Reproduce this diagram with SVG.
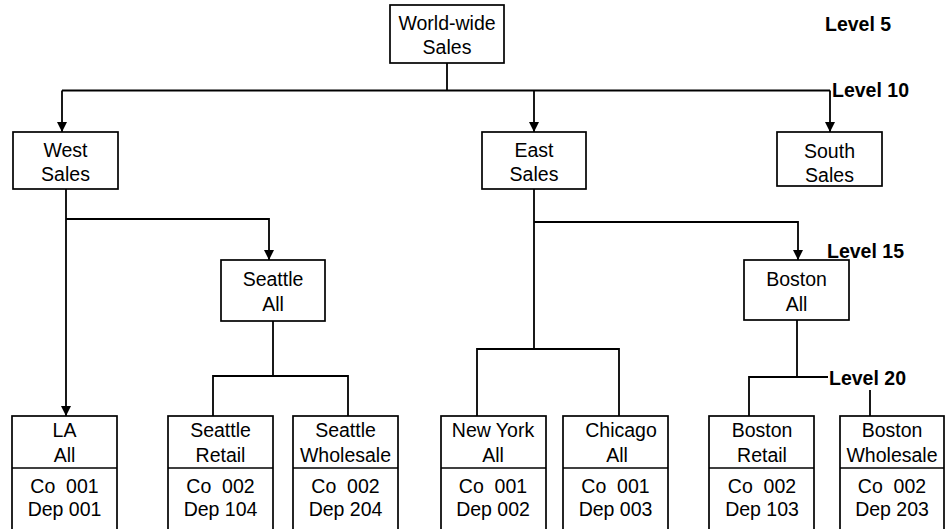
<svg xmlns="http://www.w3.org/2000/svg" width="945" height="529" viewBox="0 0 945 529">
  <defs>
    <marker id="arrow" markerUnits="userSpaceOnUse" markerWidth="10" markerHeight="10" refX="10" refY="5" orient="auto">
      <path d="M0,0 L10,5 L0,10 z" fill="#000"/>
    </marker>
    <style>
      .box { fill: #fff; stroke: #000; stroke-width: 1.7; }
      .div { stroke: #000; stroke-width: 1.7; }
      .wire { fill: none; stroke: #000; stroke-width: 1.8; }
      .arr { marker-end: url(#arrow); }
      .t { font-family: "Liberation Sans", Arial, sans-serif; font-size: 19.5px; fill: #000; text-anchor: middle; white-space: pre; }
      .lvl { font-family: "Liberation Sans", Arial, sans-serif; font-size: 19.5px; font-weight: bold; fill: #000; }
    </style>
  </defs>

  <rect width="945" height="529" fill="#fff"/>

  <!-- connectors -->
  <g id="connectors">
    <path class="wire" d="M447,63 V90.5"/>
    <path class="wire" d="M62,90.5 H830"/>
    <path class="wire arr" d="M62,90.5 V132"/>
    <path class="wire arr" d="M534,90.5 V132"/>
    <path class="wire arr" d="M830,90.5 V132"/>

    <path class="wire arr" d="M66,189 V416"/>
    <path class="wire arr" d="M66,219 H269 V260"/>
    <path class="wire" d="M273,321 V376"/>
    <path class="wire" d="M213,416 V376 H348 V416"/>

    <path class="wire" d="M534,189 V349"/>
    <path class="wire" d="M477,416 V349 H619 V416"/>
    <path class="wire arr" d="M534,222 H798 V260"/>
    <path class="wire" d="M797,320 V377"/>
    <path class="wire" d="M749,416 V377 H870 V416"/>
  </g>

  <!-- level labels -->
  <g id="levels">
    <text class="lvl" x="825" y="31">Level 5</text>
    <text class="lvl" x="832" y="96.5">Level 10</text>
    <text class="lvl" x="827" y="258">Level 15</text>
    <rect x="828" y="365" width="84" height="25" fill="#fff"/>
    <text class="lvl" x="829" y="385">Level 20</text>
  </g>

  <!-- level 5 -->
  <g id="worldwide">
    <rect class="box" x="390" y="5" width="114" height="58"/>
    <text class="t" x="447" y="29.5">World-wide</text>
    <text class="t" x="447" y="53.5">Sales</text>
  </g>

  <!-- level 10 -->
  <g id="west">
    <rect class="box" x="13" y="132" width="105" height="57"/>
    <text class="t" x="65.5" y="156.5">West</text>
    <text class="t" x="65.5" y="180.5">Sales</text>
  </g>
  <g id="east">
    <rect class="box" x="482" y="132" width="104" height="57"/>
    <text class="t" x="534" y="156.5">East</text>
    <text class="t" x="534" y="180.5">Sales</text>
  </g>
  <g id="south">
    <rect class="box" x="777" y="132" width="105" height="54"/>
    <text class="t" x="829.5" y="157.5">South</text>
    <text class="t" x="829.5" y="181.5">Sales</text>
  </g>

  <!-- level 15 -->
  <g id="seattle-all">
    <rect class="box" x="221" y="260" width="104" height="61"/>
    <text class="t" x="273" y="285.5">Seattle</text>
    <text class="t" x="273" y="310.5">All</text>
  </g>
  <g id="boston-all">
    <rect class="box" x="744" y="260" width="105" height="60"/>
    <text class="t" x="796.5" y="285.5">Boston</text>
    <text class="t" x="796.5" y="310.5">All</text>
  </g>

  <!-- level 20 -->
  <g id="la-all">
    <rect class="box" x="12" y="416" width="105" height="125"/>
    <line class="div" x1="12" y1="468" x2="117" y2="468"/>
    <text class="t" x="64.5" y="436.5">LA</text>
    <text class="t" x="64.5" y="461.5">All</text>
    <text class="t" x="64.5" y="492.5">Co  001</text>
    <text class="t" x="64.5" y="516">Dep 001</text>
  </g>
  <g id="seattle-retail">
    <rect class="box" x="168" y="416" width="105" height="125"/>
    <line class="div" x1="168" y1="468" x2="273" y2="468"/>
    <text class="t" x="220.5" y="436.5">Seattle</text>
    <text class="t" x="220.5" y="461.5">Retail</text>
    <text class="t" x="220.5" y="492.5">Co  002</text>
    <text class="t" x="220.5" y="516">Dep 104</text>
  </g>
  <g id="seattle-wholesale">
    <rect class="box" x="293" y="416" width="105" height="125"/>
    <line class="div" x1="293" y1="468" x2="398" y2="468"/>
    <text class="t" x="345.5" y="436.5">Seattle</text>
    <text class="t" x="345.5" y="461.5">Wholesale</text>
    <text class="t" x="345.5" y="492.5">Co  002</text>
    <text class="t" x="345.5" y="516">Dep 204</text>
  </g>
  <g id="new-york-all">
    <rect class="box" x="441" y="416" width="105" height="125"/>
    <line class="div" x1="441" y1="468" x2="546" y2="468"/>
    <text class="t" x="493" y="436.5">New York</text>
    <text class="t" x="493" y="461.5">All</text>
    <text class="t" x="493" y="492.5">Co  001</text>
    <text class="t" x="493" y="516">Dep 002</text>
  </g>
  <g id="chicago-all">
    <rect class="box" x="563" y="416" width="105" height="125"/>
    <line class="div" x1="563" y1="468" x2="668" y2="468"/>
    <text class="t" x="621" y="436.5">Chicago</text>
    <text class="t" x="617" y="461.5">All</text>
    <text class="t" x="615.5" y="492.5">Co  001</text>
    <text class="t" x="615.5" y="516">Dep 003</text>
  </g>
  <g id="boston-retail">
    <rect class="box" x="709" y="416" width="105" height="125"/>
    <line class="div" x1="709" y1="468" x2="814" y2="468"/>
    <text class="t" x="762" y="436.5">Boston</text>
    <text class="t" x="762" y="461.5">Retail</text>
    <text class="t" x="762" y="492.5">Co  002</text>
    <text class="t" x="762" y="516">Dep 103</text>
  </g>
  <g id="boston-wholesale">
    <rect class="box" x="840" y="416" width="104" height="125"/>
    <line class="div" x1="840" y1="468" x2="944" y2="468"/>
    <text class="t" x="892" y="436.5">Boston</text>
    <text class="t" x="892" y="461.5">Wholesale</text>
    <text class="t" x="892" y="492.5">Co  002</text>
    <text class="t" x="892" y="516">Dep 203</text>
  </g>
</svg>
